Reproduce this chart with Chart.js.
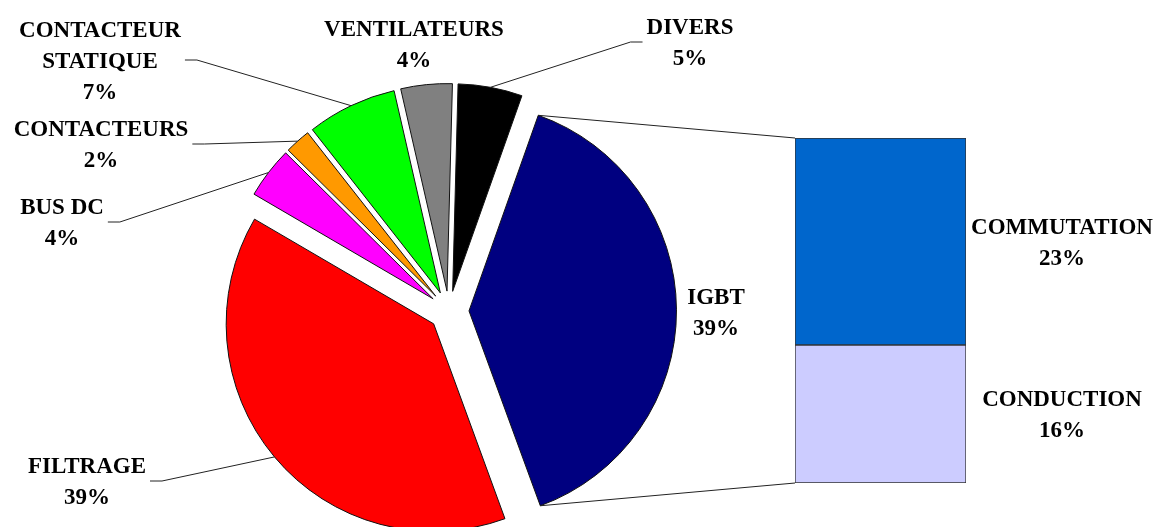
<!DOCTYPE html>
<html>
<head>
<meta charset="utf-8">
<script src="https://cdn.jsdelivr.net/npm/chart.js@4.4.0/dist/chart.umd.min.js"></script>
<style>
  html, body { margin: 0; padding: 0; background: #fff; }
  #wrap { position: relative; width: 1159px; height: 527px; overflow: hidden; }
  #pie { position: absolute; left: 0; top: 0; }
  #bar { position: absolute; left: 785px; top: 128px; }
</style>
</head>
<body>
<div id="wrap">
  <canvas id="pie" width="1159" height="527"></canvas>
  <canvas id="bar" width="374" height="365"></canvas>
</div>
<script>
// main pie
const pieLabels = [['IGBT'], ['FILTRAGE'], ['BUS DC'], ['CONTACTEURS'], ['CONTACTEUR', 'STATIQUE'], ['VENTILATEURS'], ['DIVERS']];
const pieValues = [39, 39, 4, 2, 7, 4, 5];
const pieColors = ['#000080', '#ff0000', '#ff00ff', '#ff9900', '#00ff00', '#808080', '#000000'];

// IGBT breakdown (bar), bottom to top
const igbtLabels = ['CONDUCTION', 'COMMUTATION'];
const igbtValues = [15.6, 23.4];
const igbtColors = ['#ccccff', '#0066cc'];

// where each pie label block sits (centre), and which side its leader leaves from
const labelLayout = [
  { x: 716, y: 312, leader: null },
  { x: 87, y: 481, leader: 'right' },
  { x: 62, y: 222, leader: 'right' },
  { x: 101, y: 144, leader: 'right' },
  { x: 100, y: 60, leader: 'right' },
  { x: 414, y: 44, leader: null },
  { x: 690, y: 42, leader: 'left' }
];

const FONT = 'bold 23px "Liberation Serif"';
const LINE_H = 31;
const EXPLODE = 20;

function drawBlock(ctx, lines, cx, cy) {
  ctx.save();
  ctx.font = FONT;
  ctx.fillStyle = '#000';
  ctx.textAlign = 'center';
  ctx.textBaseline = 'alphabetic';
  const y0 = cy - (lines.length - 1) * LINE_H / 2;
  lines.forEach((t, i) => ctx.fillText(t, cx, y0 + i * LINE_H + 7.6));
  ctx.restore();
}

function blockWidth(ctx, lines) {
  ctx.save();
  ctx.font = FONT;
  const w = Math.max(...lines.map(t => ctx.measureText(t).width));
  ctx.restore();
  return w;
}

const barLabelPlugin = {
  id: 'barLabels',
  afterDraw(chart) {
    const ctx = chart.ctx;
    chart.data.datasets.forEach((ds, i) => {
      const el = chart.getDatasetMeta(i).data[0];
      const cy = (el.y + el.base) / 2;
      const cx = el.x + el.width / 2 + 96;
      drawBlock(ctx, [igbtLabels[i], Math.round(igbtValues[i]) + '%'], cx, cy);
    });
  }
};

const barChart = new Chart(document.getElementById('bar'), {
  type: 'bar',
  data: {
    labels: ['IGBT'],
    datasets: igbtLabels.map((l, i) => ({
      label: l,
      data: [igbtValues[i]],
      backgroundColor: igbtColors[i],
      borderColor: '#333',
      borderWidth: 1,
      borderSkipped: false,
      barPercentage: 1,
      categoryPercentage: 1
    }))
  },
  options: {
    responsive: false,
    animation: false,
    events: [],
    layout: { padding: { left: 10, top: 10, bottom: 10, right: 193 } },
    scales: {
      x: { stacked: true, display: false },
      y: { stacked: true, display: false, min: 0, max: igbtValues.reduce((a, b) => a + b, 0) }
    },
    plugins: { legend: { display: false }, tooltip: { enabled: false } }
  },
  plugins: [barLabelPlugin]
});

// pull every slice out from the centre
const explodePlugin = {
  id: 'explode',
  afterDatasetUpdate(chart, args) {
    args.meta.data.forEach(arc => {
      const mid = (arc.startAngle + arc.endAngle) / 2;
      arc.x += Math.cos(mid) * EXPLODE;
      arc.y += Math.sin(mid) * EXPLODE;
    });
  }
};

const pieLabelPlugin = {
  id: 'pieLabels',
  afterDraw(chart) {
    const ctx = chart.ctx;
    const arcs = chart.getDatasetMeta(0).data;
    const total = pieValues.reduce((a, b) => a + b, 0);

    // connectors from the IGBT slice to the bar
    const ig = arcs[0];
    const barCanvas = barChart.canvas;
    const top = barChart.getDatasetMeta(1).data[0];
    const bot = barChart.getDatasetMeta(0).data[0];
    const bx = barCanvas.offsetLeft + top.x - top.width / 2;
    ctx.save();
    ctx.strokeStyle = '#222';
    ctx.lineWidth = 1;
    ctx.beginPath();
    ctx.moveTo(ig.x + Math.cos(ig.startAngle) * ig.outerRadius, ig.y + Math.sin(ig.startAngle) * ig.outerRadius);
    ctx.lineTo(bx, barCanvas.offsetTop + top.y);
    ctx.moveTo(ig.x + Math.cos(ig.endAngle) * ig.outerRadius, ig.y + Math.sin(ig.endAngle) * ig.outerRadius);
    ctx.lineTo(bx, barCanvas.offsetTop + bot.base);
    ctx.stroke();
    ctx.restore();

    arcs.forEach((arc, i) => {
      const lay = labelLayout[i];
      const lines = pieLabels[i].concat([Math.round(pieValues[i] / total * 100) + '%']);
      if (lay.leader) {
        const mid = (arc.startAngle + arc.endAngle) / 2;
        const ex = arc.x + Math.cos(mid) * arc.outerRadius;
        const ey = arc.y + Math.sin(mid) * arc.outerRadius;
        const half = blockWidth(ctx, lines) / 2 + 4;
        const dir = lay.leader === 'right' ? 1 : -1;
        const sx = lay.x + dir * half;
        ctx.save();
        ctx.strokeStyle = '#222';
        ctx.lineWidth = 1;
        ctx.beginPath();
        ctx.moveTo(sx, lay.y);
        ctx.lineTo(sx + dir * 12, lay.y);
        ctx.lineTo(ex, ey);
        ctx.stroke();
        ctx.restore();
      }
      drawBlock(ctx, lines, lay.x, lay.y);
    });
  }
};

const pieChart = new Chart(document.getElementById('pie'), {
  type: 'pie',
  data: {
    labels: pieLabels.map(l => l.join(' ')),
    datasets: [{
      data: pieValues,
      backgroundColor: pieColors,
      borderColor: '#111',
      borderWidth: 1
    }]
  },
  options: {
    responsive: false,
    animation: false,
    events: [],
    rotation: 19.5,
    radius: 207.5,
    layout: { padding: { left: 0, right: 261, top: 95, bottom: 0 } },
    plugins: { legend: { display: false }, tooltip: { enabled: false } }
  },
  plugins: [explodePlugin, pieLabelPlugin]
});
</script>
</body>
</html>
